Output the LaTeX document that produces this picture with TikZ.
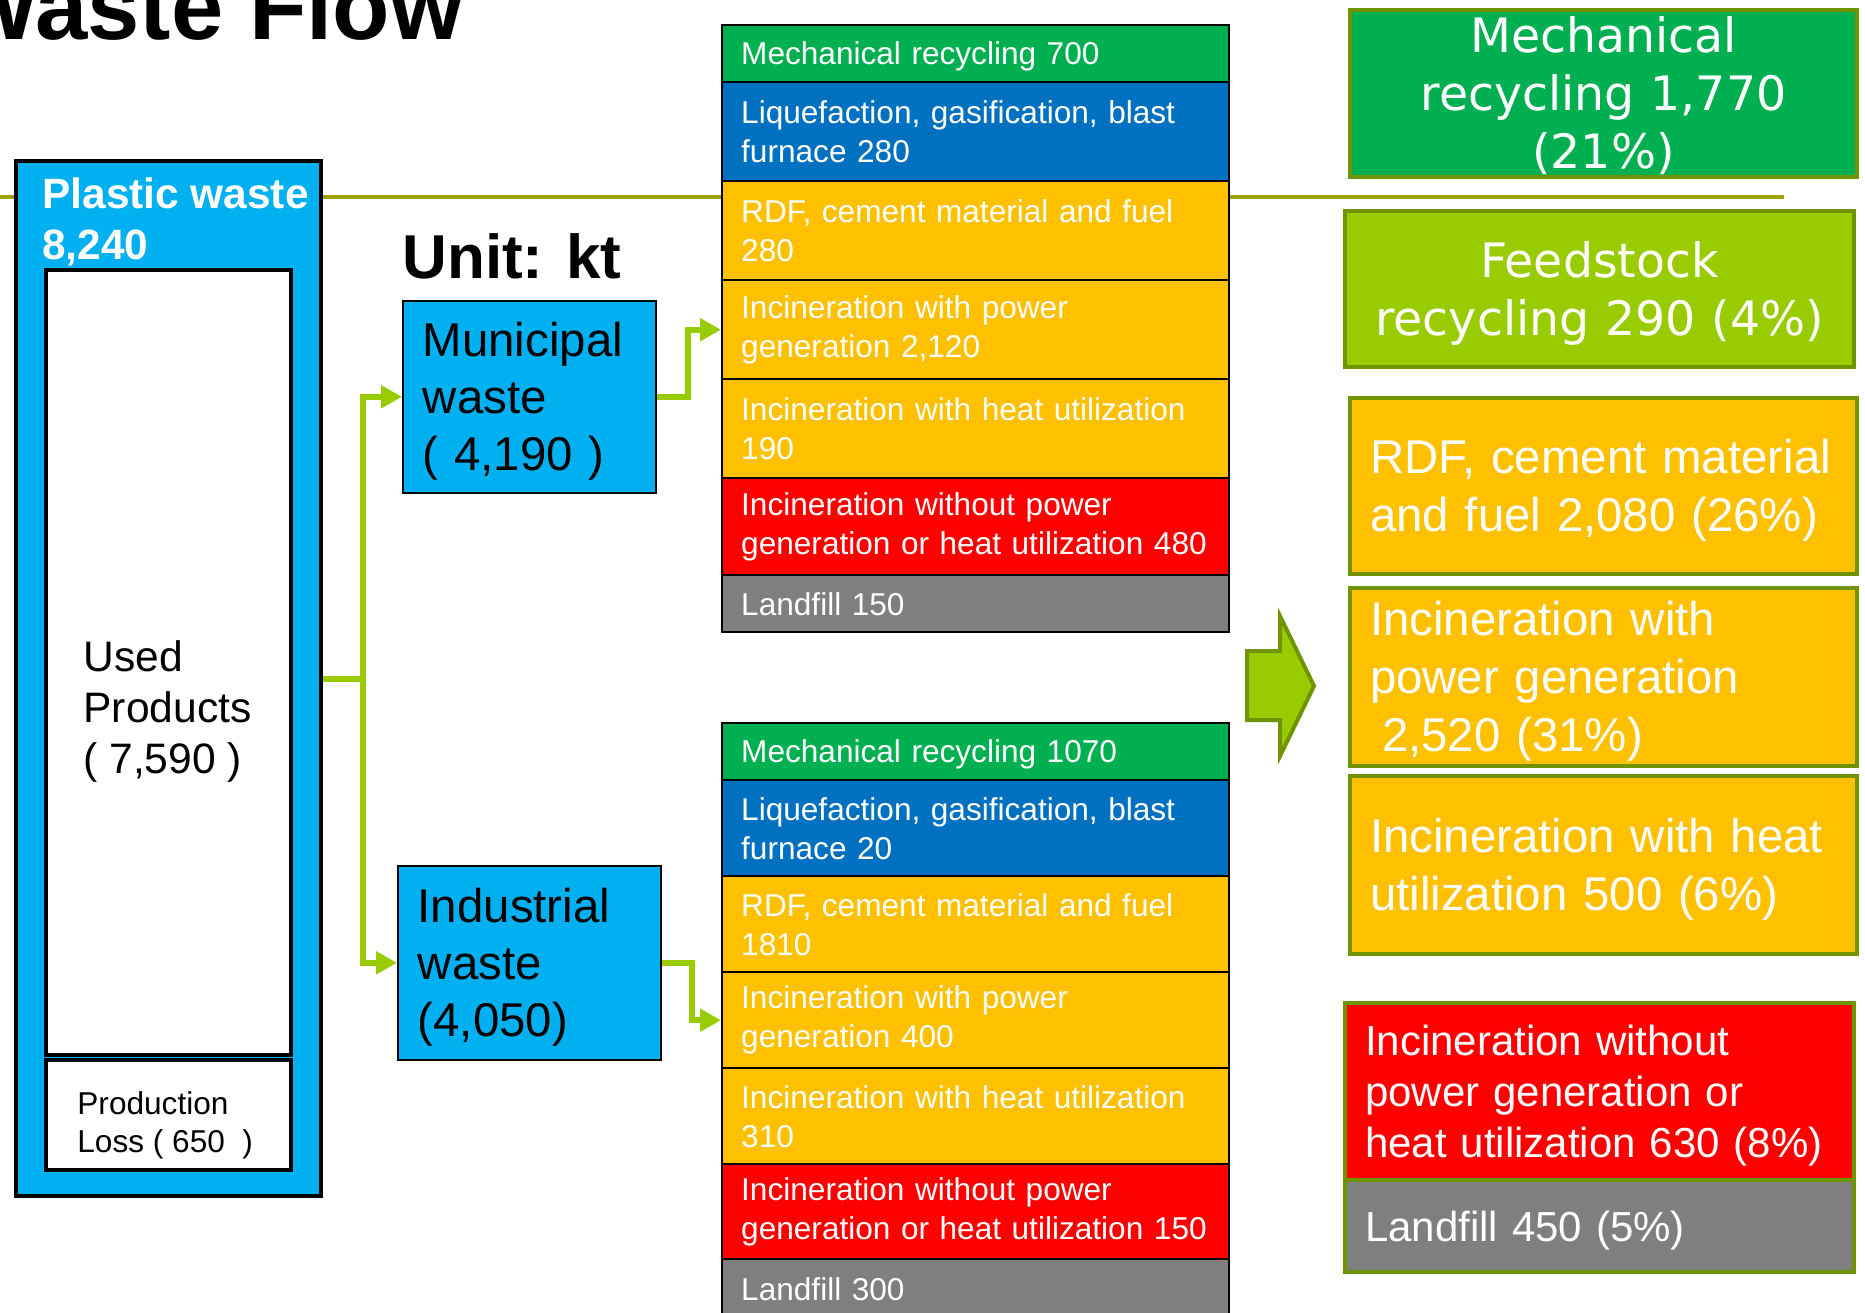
\documentclass[tikz,border=0pt]{standalone}
\usepackage{fontspec}
\setmainfont{Liberation Sans}
\newfontfamily\verdfont{DejaVu Sans}
\usetikzlibrary{arrows.meta}

\definecolor{wasteBlue}{HTML}{00B0F0}
\definecolor{mechGreen}{HTML}{00B050}
\definecolor{liqBlue}{HTML}{0070C0}
\definecolor{fuelOrange}{HTML}{FFC000}
\definecolor{burnRed}{HTML}{FF0000}
\definecolor{landGray}{HTML}{7F7F7F}
\definecolor{flowGreen}{HTML}{99CC00}
\definecolor{sumBorder}{RGB}{112,148,0}
\definecolor{ruleOlive}{RGB}{160,160,0}

\begin{document}
\begin{tikzpicture}
[x=0.5pt,y=-0.5pt,
  flowLine/.style={line width=3pt,color=flowGreen},%
  flowArrow/.style={flowLine,-{Triangle[length=10.5pt,width=11pt]}},%
  bigArrow/.style={fill=flowGreen,draw=sumBorder,line width=2pt,line join=miter},%
  boxDecorate/.style={draw,line width=2pt,anchor=north west,inner sep=0pt},%
  sourceDecorate/.style={draw,line width=0.8pt,fill=wasteBlue,anchor=north west,
    inner xsep=10pt,inner ysep=0pt,align=left,font=\fontsize{23.7}{28.5}\selectfont,
    execute at begin node={\rule{0pt}{21.2pt}}},%
  rowDecorate/.style={draw,line width=1.2pt,anchor=north west,text width=234.5pt,
    inner xsep=9.5pt,inner ysep=0pt,align=left,text=white,
    font=\fontsize{15.8}{19.5}\selectfont},%
  sumDecorate/.style={draw=sumBorder,line width=2pt,anchor=north west,inner xsep=10pt,
    inner ysep=0pt,text=white,font=\fontsize{23.7}{29}\selectfont},%
  lowerText/.style={execute at begin node={\rule{0pt}{#1}}}]
\useasboundingbox (0,0) rectangle (1865,1313);

%% title and rule
\draw[ruleOlive,line width=2pt] (0,197) -- (1784,197);
\node[anchor=base east,inner sep=0pt,font=\bfseries\fontsize{47}{56}\selectfont] (title) at (464,39) {Waste Flow};
\node[anchor=west,inner sep=0pt,font=\bfseries\fontsize{31}{37}\selectfont] (unit) at (402,256) {Unit: kt};

%% plastic waste
\node[boxDecorate,fill=wasteBlue,minimum width=152.5pt,minimum height=517.5pt] (plastic) at (14,159) {};
\node[boxDecorate,fill=white,minimum width=122.5pt,minimum height=392.5pt] (used) at (44,268) {};
\node[boxDecorate,fill=white,minimum width=122.5pt,minimum height=55pt] (loss) at (44,1058) {};
\node[anchor=west,inner sep=0pt,align=left,text=white,font=\bfseries\fontsize{21.2}{25.5}\selectfont] (plasticlabel) at (42,222) {Plastic waste\\8,240};
\node[anchor=west,inner sep=0pt,align=left,font=\fontsize{21.3}{25.5}\selectfont] (usedlabel) at (83,711) {Used\\Products\\( 7,590 )};
\node[anchor=west,inner sep=0pt,align=left,font=\fontsize{15.8}{19}\selectfont] (losslabel) at (77,1125) {Production\\Loss ( 650\ \ )};

%% sources
\node[sourceDecorate,text width=106.5pt,minimum height=96pt] (muni) at (402,300) {Municipal\\waste\\( 4,190 )};
\node[sourceDecorate,text width=111.5pt,minimum height=97pt] (indu) at (397,865) {Industrial\\waste\\(4,050)};

%% treatment of municipal waste
\foreach \nodename/\y/\h/\clr/\txt in {
  mmech/24/57/mechGreen/{\rule{0pt}{14pt}Mechanical recycling 700},
  mliq/81/99/liqBlue/{Liquefaction, gasification, blast\\furnace 280},
  mrdf/180/99/fuelOrange/{RDF, cement material and fuel\\280},
  mpow/279/99/fuelOrange/{Incineration with power\\generation 2,120},
  mheat/378/99/fuelOrange/{Incineration with heat utilization\\190},
  mnone/477/97/burnRed/{Incineration without power\\\mbox{generation or heat utilization 480}},
  mland/574/57/landGray/{Landfill 150}}
{
  \node[rowDecorate,fill=\clr,minimum height=0.5pt*\h] (\nodename) at (721,\y) {\txt};
}

%% treatment of industrial waste
\foreach \nodename/\y/\h/\clr/\txt in {
  imech/722/57/mechGreen/{\rule{0pt}{14pt}Mechanical recycling 1070},
  iliq/779/96/liqBlue/{Liquefaction, gasification, blast\\furnace 20},
  irdf/875/96/fuelOrange/{RDF, cement material and fuel\\1810},
  ipow/971/96/fuelOrange/{Incineration with power\\generation 400},
  iheat/1067/96/fuelOrange/{Incineration with heat utilization\\310},
  inone/1163/95/burnRed/{Incineration without power\\\mbox{generation or heat utilization 150}},
  iland/1258/60/landGray/{Landfill 300}}
{
  \node[rowDecorate,fill=\clr,minimum height=0.5pt*\h] (\nodename) at (721,\y) {\txt};
}

%% flows
\path (plastic.east) ++(40,0) coordinate (split);
\draw[flowLine] (plastic.east) -- (split);
\draw[flowArrow] (split) |- (muni.west);
\draw[flowArrow] (split) |- (indu.west);
\draw[flowArrow] (muni.east) -- ++(31,0) |- (mpow.west);
\draw[flowArrow] (indu.east) -- ++(30,0) |- (ipow.west);

%% big arrow
\draw[bigArrow] (1247,651) -- (1280,651) -- (1280,616) -- (1314,686) -- (1280,756) -- (1280,720) -- (1247,720) -- cycle;

%% totals
\node[sumDecorate,fill=mechGreen,text width=233.5pt,minimum height=83.5pt,align=center,font=\verdfont\fontsize{23.7}{29}\selectfont,lowerText=20.4pt] (smech) at (1348,8) {Mechanical\\recycling 1,770\\(21\%)};
\node[sumDecorate,fill=flowGreen,text width=234.5pt,minimum height=78pt,align=center,font=\verdfont\fontsize{23.7}{29}\selectfont,lowerText=22.2pt] (sfeed) at (1343,209) {Feedstock\\recycling 290 (4\%)};
\node[sumDecorate,fill=fuelOrange,text width=233.5pt,minimum height=88pt,align=left,lowerText=21.2pt] (srdf) at (1348,396) {RDF, cement material\\and fuel 2,080 (26\%)};
\node[sumDecorate,fill=fuelOrange,text width=233.5pt,minimum height=89pt,align=left,lowerText=21.2pt] (spow) at (1348,586) {Incineration with\\power generation\\\hspace*{6pt}2,520 (31\%)};
\node[sumDecorate,fill=fuelOrange,text width=233.5pt,minimum height=89pt,align=left,lowerText=21.2pt] (sheat) at (1348,774) {Incineration with heat\\utilization 500 (6\%)};
\node[sumDecorate,fill=burnRed,text width=234.5pt,minimum height=88.5pt,align=left,font=\fontsize{21}{25.5}\selectfont,lowerText=19.4pt] (snone) at (1343,1001) {Incineration without\\power generation or\\heat utilization 630 (8\%)};
\node[sumDecorate,fill=landGray,text width=234.5pt,minimum height=46pt,align=left,font=\fontsize{21}{25.5}\selectfont,lowerText=19.4pt] (sland) at (1343,1178) {Landfill 450 (5\%)};
\end{tikzpicture}
\end{document}
